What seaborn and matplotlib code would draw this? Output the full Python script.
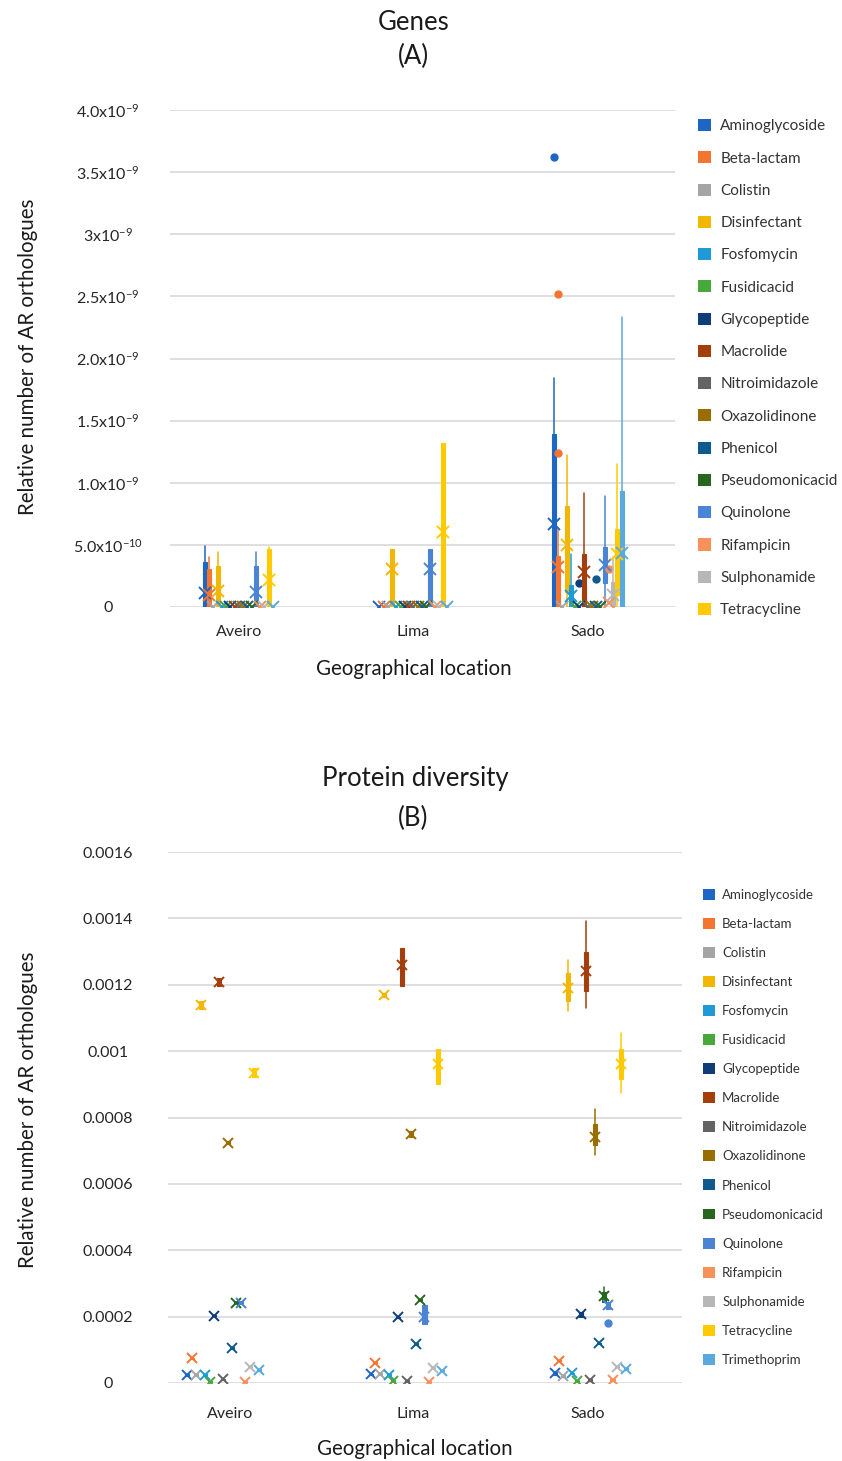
import numpy as np
import matplotlib
matplotlib.use("Agg")
import matplotlib.pyplot as plt
import seaborn as sns
from matplotlib.patches import Patch

# ---------------- data ----------------
LOCATIONS = ["Aveiro", "Lima", "Sado"]
CLASSES = ["Aminoglycoside", "Beta-lactam", "Colistin", "Disinfectant", "Fosfomycin",
           "Fusidicacid", "Glycopeptide", "Macrolide", "Nitroimidazole", "Oxazolidinone",
           "Phenicol", "Pseudomonicacid", "Quinolone", "Rifampicin", "Sulphonamide",
           "Tetracycline", "Trimethoprim"]
COLORS = ["#1E66C4", "#F47530", "#A5A5A5", "#F2B705", "#1E9BD7",
          "#48A83C", "#0E3D78", "#A33F0C", "#636363", "#9A6D00",
          "#0F5A8C", "#27661F", "#4A84D2", "#F6915A", "#B7B7B7",
          "#FFCB00", "#5AA9DE"]

# Panel A: genes (units of 1e-9), one list of 17 values per location
A_MEAN = [[0.11, 0.10, 0, 0.125, 0, 0, 0, 0, 0, 0, 0, 0, 0.12, 0, 0, 0.22, 0],
          [0, 0, 0, 0.305, 0, 0, 0, 0, 0, 0, 0, 0, 0.305, 0, 0, 0.60, 0],
          [0.665, 0.325, 0, 0.50, 0.09, 0, 0, 0.285, 0, 0, 0, 0, 0.34, 0.03, 0.10, 0.43, 0.437]]
A_Q1 = [[0] * 17,
        [0] * 17,
        [0, 0, 0, 0.12, 0, 0, 0, 0, 0, 0, 0, 0, 0.19, 0, 0, 0.10, 0]]
A_Q3 = [[0.365, 0.305, 0, 0.33, 0, 0, 0, 0, 0, 0, 0, 0, 0.33, 0, 0, 0.465, 0],
        [0, 0, 0, 0.47, 0, 0, 0, 0, 0, 0, 0, 0, 0.47, 0, 0, 1.32, 0],
        [1.39, 0.41, 0, 0.81, 0.18, 0, 0, 0.43, 0, 0, 0, 0, 0.485, 0, 0.20, 0.625, 0.936]]
A_WLO = [[0] * 17, [0] * 17, [0] * 17]
A_WHI = [[0.49, 0.405, 0, 0.44, 0, 0, 0, 0, 0, 0, 0, 0, 0.44, 0, 0, 0.485, 0],
         [0, 0, 0, 0.47, 0, 0, 0, 0, 0, 0, 0, 0, 0.47, 0, 0, 1.32, 0],
         [1.84, 0.63, 0, 1.22, 0.425, 0, 0, 0.915, 0, 0, 0, 0, 0.89, 0, 0.405, 1.15, 2.335]]
A_FLIERS = [("Sado", "Aminoglycoside", 3.62), ("Sado", "Beta-lactam", 2.52),
            ("Sado", "Beta-lactam", 1.24), ("Sado", "Glycopeptide", 0.195),
            ("Sado", "Phenicol", 0.225), ("Sado", "Rifampicin", 0.305)]
A_YTICKLABELS = ["0", r"5.0x10$^{-10}$", r"1.0x10$^{-9}$", r"1.5x10$^{-9}$", r"2.0x10$^{-9}$",
                 r"2.5x10$^{-9}$", r"3x10$^{-9}$", r"3.5x10$^{-9}$", r"4.0x10$^{-9}$"]

# Panel B: protein diversity (units of 1e-3)
B_MEAN = [[0.024, 0.074, 0.024, 1.139, 0.024, 0.004, 0.203, 1.207, 0.011, 0.724, 0.105, 0.242, 0.242, 0.004, 0.049, 0.935, 0.039],
          [0.026, 0.061, 0.027, 1.169, 0.024, 0.006, 0.198, 1.259, 0.006, 0.750, 0.118, 0.250, 0.200, 0.004, 0.046, 0.961, 0.037],
          [0.029, 0.067, 0.021, 1.191, 0.029, 0.007, 0.207, 1.241, 0.009, 0.740, 0.120, 0.262, 0.235, 0.009, 0.049, 0.961, 0.042]]
B_Q1 = [[0.022, 0.072, 0.022, 1.127, 0.022, 0.002, 0.201, 1.195, 0.009, 0.720, 0.103, 0.240, 0.238, 0.002, 0.047, 0.922, 0.037],
        [0.024, 0.059, 0.025, 1.163, 0.022, 0.004, 0.196, 1.197, 0.004, 0.740, 0.116, 0.248, 0.177, 0.002, 0.044, 0.900, 0.035],
        [0.024, 0.065, 0.019, 1.152, 0.027, 0.003, 0.200, 1.182, 0.007, 0.717, 0.118, 0.245, 0.222, 0.007, 0.047, 0.916, 0.040]]
B_Q3 = [[0.026, 0.076, 0.026, 1.151, 0.026, 0.006, 0.205, 1.220, 0.013, 0.728, 0.107, 0.244, 0.246, 0.006, 0.051, 0.948, 0.041],
        [0.028, 0.063, 0.029, 1.175, 0.026, 0.008, 0.200, 1.311, 0.008, 0.760, 0.120, 0.252, 0.235, 0.006, 0.048, 1.005, 0.039],
        [0.034, 0.069, 0.023, 1.236, 0.031, 0.010, 0.215, 1.300, 0.011, 0.780, 0.122, 0.275, 0.245, 0.011, 0.051, 1.005, 0.044]]
B_WLO = [B_Q1[0], B_Q1[1],
         [0.024, 0.065, 0.019, 1.122, 0.027, 0.003, 0.200, 1.131, 0.007, 0.687, 0.118, 0.245, 0.222, 0.007, 0.047, 0.873, 0.040]]
B_WHI = [B_Q3[0], B_Q3[1],
         [0.034, 0.069, 0.023, 1.276, 0.031, 0.010, 0.215, 1.393, 0.011, 0.825, 0.122, 0.290, 0.245, 0.011, 0.051, 1.054, 0.044]]
B_FLIERS = [("Sado", "Quinolone", 0.18)]
B_YTICKS = [0, 0.0002, 0.0004, 0.0006, 0.0008, 0.001, 0.0012, 0.0014, 0.0016]
B_YTICKLABELS = ["0", "0.0002", "0.0004", "0.0006", "0.0008", "0.001", "0.0012", "0.0014", "0.0016"]

# ---------------- style ----------------
sns.set_theme(style="white")
FONT = "Lato"
plt.rcParams["font.family"] = [FONT, "DejaVu Sans"]
plt.rcParams["mathtext.fontset"] = "custom"
plt.rcParams["mathtext.rm"] = FONT
plt.rcParams["mathtext.it"] = FONT + ":italic"
plt.rcParams["mathtext.bf"] = FONT + ":bold"

TXT = "#1a1a1a"
TICK = "#262626"
GRID = "#D9D9D9"
STEP = 0.0243

W, H = 842, 1461
fig = plt.figure(figsize=(W / 100, H / 100), dpi=100)


def fx(px):
    return px / W


def fy(py):
    return 1 - py / H


def draw_panel(ax, mean, q1, q3, wlo, whi, fliers, scale, nser, box_w, ms):
    for i in range(nser):
        c = COLORS[i]
        stats, pos = [], []
        for g, loc in enumerate(LOCATIONS):
            fl = [v * scale for (l, cl, v) in fliers if l == loc and cl == CLASSES[i]]
            lo, hi = q1[g][i] * scale, q3[g][i] * scale
            m = mean[g][i] * scale
            stats.append(dict(q1=lo, q3=hi, med=min(max(m, lo), hi), mean=m,
                              whislo=wlo[g][i] * scale, whishi=whi[g][i] * scale,
                              fliers=np.array(fl)))
            pos.append(g + (i - 8) * STEP)
        ax.bxp(stats, positions=pos, widths=box_w, patch_artist=True, showmeans=True,
               showcaps=False, manage_ticks=False,
               boxprops=dict(facecolor=c, edgecolor=c, linewidth=0.8),
               whiskerprops=dict(color=c, linewidth=1.1),
               medianprops=dict(color=c, linewidth=0.6),
               meanprops=dict(marker="x", markeredgecolor=c, markerfacecolor=c,
                              markersize=ms, markeredgewidth=1.4),
               flierprops=dict(marker="o", markerfacecolor=c, markeredgecolor=c,
                               markersize=5))


def style_axes(ax, xticks, ypad_px, xpad_px):
    for s in ax.spines.values():
        s.set_visible(False)
    ax.grid(axis="y", color=GRID, linewidth=1.2)
    ax.grid(axis="x", visible=False)
    ax.set_axisbelow(True)
    ax.tick_params(axis="both", length=0, colors=TICK, labelsize=11.5)
    ax.set_xticks(xticks)
    ax.set_xticklabels(LOCATIONS)
    ax.tick_params(axis="y", pad=ypad_px * 0.72)
    ax.tick_params(axis="x", pad=xpad_px * 0.72)
    for t in ax.get_yticklabels():
        t.set_horizontalalignment("center")


# ---------------- panel A ----------------
axA = fig.add_axes([fx(170), fy(607), fx(675) - fx(170), fy(110) - fy(607)])
draw_panel(axA, A_MEAN, A_Q1, A_Q3, A_WLO, A_WHI, A_FLIERS, 1e-9, 17, 0.023, 8)
axA.set_xlim(-0.395, 2.5)
axA.set_ylim(0, 4e-9)
axA.set_yticks([k * 0.5e-9 for k in range(9)])
axA.set_yticklabels(A_YTICKLABELS)
style_axes(axA, [0, 1, 2], 62, 18)

fig.text(fx(414), fy(22), "Genes", ha="center", va="center", fontsize=18.5, color=TXT)
fig.text(fx(413), fy(56), "(A)", ha="center", va="center", fontsize=18.5, color=TXT)
fig.text(fx(414), fy(669), "Geographical location", ha="center", va="center", fontsize=14.8, color=TXT)
fig.text(fx(28), fy(357), "Relative number of AR orthologues", ha="center", va="center",
         rotation=90, fontsize=14.8, color=TXT)

hA = [Patch(facecolor=COLORS[i], edgecolor="none") for i in range(16)]
fig.legend(hA, CLASSES[:16], loc="upper left", bbox_to_anchor=(fx(698), fy(119)),
           frameon=False, fontsize=11, handlelength=0.85, handleheight=0.85,
           handletextpad=0.6, labelspacing=1.17, borderpad=0, borderaxespad=0,
           labelcolor="#333333")

# ---------------- panel B ----------------
axB = fig.add_axes([fx(168), fy(1383), fx(682) - fx(168), fy(852) - fy(1383)])
draw_panel(axB, B_MEAN, B_Q1, B_Q3, B_WLO, B_WHI, B_FLIERS, 1e-3, 17, 0.022, 7.5)
axB.set_xlim(-0.30, 2.5)
axB.set_ylim(0, 0.0016)
axB.set_yticks(B_YTICKS)
axB.set_yticklabels(B_YTICKLABELS)
style_axes(axB, [0.038, 1.035, 1.985], 60, 24)

fig.text(fx(415), fy(778), "Protein diversity", ha="center", va="center", fontsize=18.5, color=TXT)
fig.text(fx(413), fy(818), "(B)", ha="center", va="center", fontsize=18.5, color=TXT)
fig.text(fx(415), fy(1449), "Geographical location", ha="center", va="center", fontsize=14.8, color=TXT)
fig.text(fx(28), fy(1110), "Relative number of AR orthologues", ha="center", va="center",
         rotation=90, fontsize=14.8, color=TXT)

hB = [Patch(facecolor=COLORS[i], edgecolor="none") for i in range(17)]
fig.legend(hB, CLASSES, loc="upper left", bbox_to_anchor=(fx(703), fy(889)),
           frameon=False, fontsize=9.5, handlelength=0.9, handleheight=0.9,
           handletextpad=0.55, labelspacing=1.29, borderpad=0, borderaxespad=0,
           labelcolor="#333333")

fig.savefig("out.png", dpi=100, facecolor="white")
